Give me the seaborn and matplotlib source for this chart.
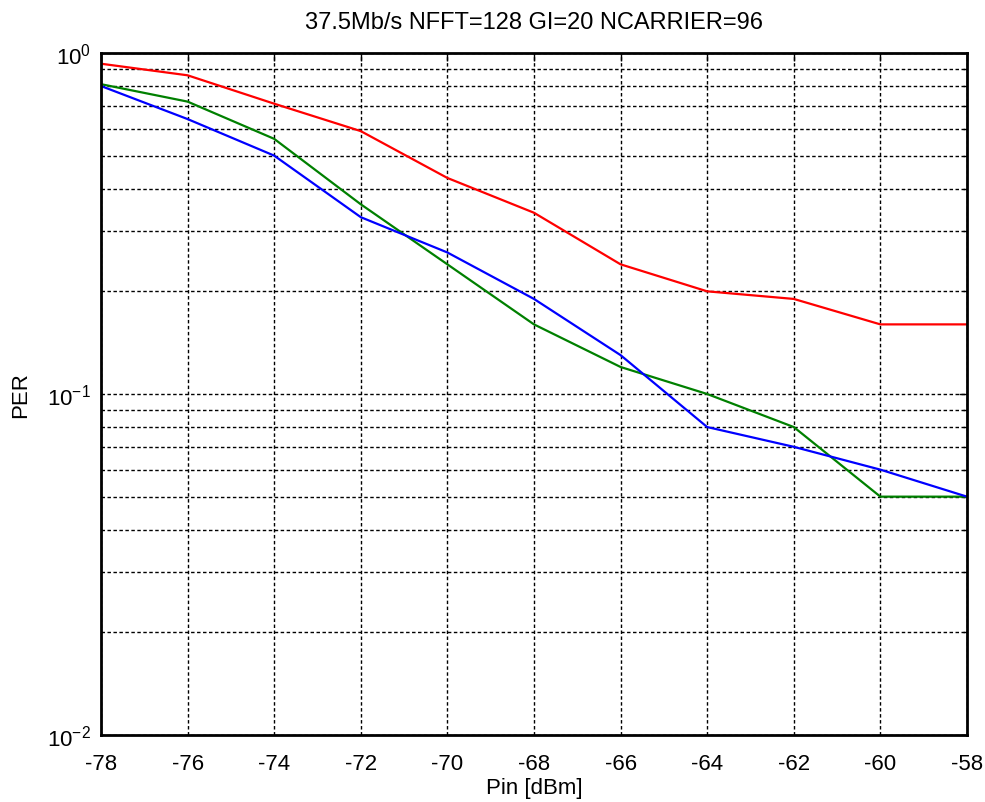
import matplotlib
matplotlib.use("Agg")
import matplotlib.pyplot as plt
from matplotlib.ticker import LogLocator, FixedLocator
import numpy as np
import pandas as pd
import seaborn as sns

# Input power sweep and packet error rates for three receiver configurations
pin_dbm = [-78, -76, -74, -72, -70, -68, -66, -64, -62, -60, -58]
per_red = [0.93, 0.86, 0.71, 0.59, 0.43, 0.34, 0.24, 0.20, 0.19, 0.16, 0.16]
per_green = [0.81, 0.72, 0.56, 0.36, 0.24, 0.16, 0.12, 0.10, 0.08, 0.05, 0.05]
per_blue = [0.80, 0.64, 0.50, 0.33, 0.26, 0.19, 0.13, 0.08, 0.07, 0.06, 0.05]
x_ticks = [-78, -76, -74, -72, -70, -68, -66, -64, -62, -60, -58]

df = pd.DataFrame({
    "Pin": pin_dbm * 3,
    "PER": per_red + per_green + per_blue,
    "series": ["red"] * len(pin_dbm) + ["green"] * len(pin_dbm) + ["blue"] * len(pin_dbm),
})

sns.set_theme(style="white")
plt.rcParams["font.family"] = ["Liberation Sans", "DejaVu Sans"]
plt.rcParams["mathtext.fontset"] = "custom"
plt.rcParams["mathtext.rm"] = "Liberation Sans"
plt.rcParams["mathtext.it"] = "Liberation Sans"

fig = plt.figure(figsize=(9.85, 8.03), dpi=100)
ax = fig.add_axes([0.1025, 0.0834, 0.8792, 0.8494])

sns.lineplot(data=df, x="Pin", y="PER", hue="series",
             palette={"red": "#ff0000", "green": "#008000", "blue": "#0000ff"},
             linewidth=1.6, legend=False, ax=ax)

ax.set_yscale("log")
ax.set_xlim(-78, -58)
ax.set_ylim(1e-2, 1e0)
ax.xaxis.set_major_locator(FixedLocator(x_ticks))
ax.set_xticklabels([str(v) for v in x_ticks])
ax.yaxis.set_major_locator(LogLocator(base=10))
ax.yaxis.set_minor_locator(LogLocator(base=10, subs=np.arange(2, 10)))

grid_style = dict(color="black", linestyle=(0, (2.5, 1.8)), linewidth=1.0)
ax.grid(True, which="major", axis="both", **grid_style)
ax.grid(True, which="minor", axis="y", **grid_style)

for s in ax.spines.values():
    s.set_color("black")
    s.set_linewidth(2)

ax.tick_params(axis="both", which="both", direction="in", top=True, right=True,
               color="black", labelsize=16, labelcolor="black")
ax.tick_params(axis="both", which="major", length=6, width=1)
ax.tick_params(axis="y", which="minor", length=3, width=1)
ax.tick_params(axis="x", which="major", pad=13)
ax.tick_params(axis="y", which="major", pad=7)

ax.set_title("37.5Mb/s NFFT=128 GI=20 NCARRIER=96", fontsize=17, color="black", pad=18)
ax.set_xlabel("Pin [dBm]", fontsize=16, color="black", labelpad=2)
ax.set_ylabel("PER", fontsize=16, color="black", labelpad=12)

fig.savefig("out.png", dpi=100, facecolor="white")
